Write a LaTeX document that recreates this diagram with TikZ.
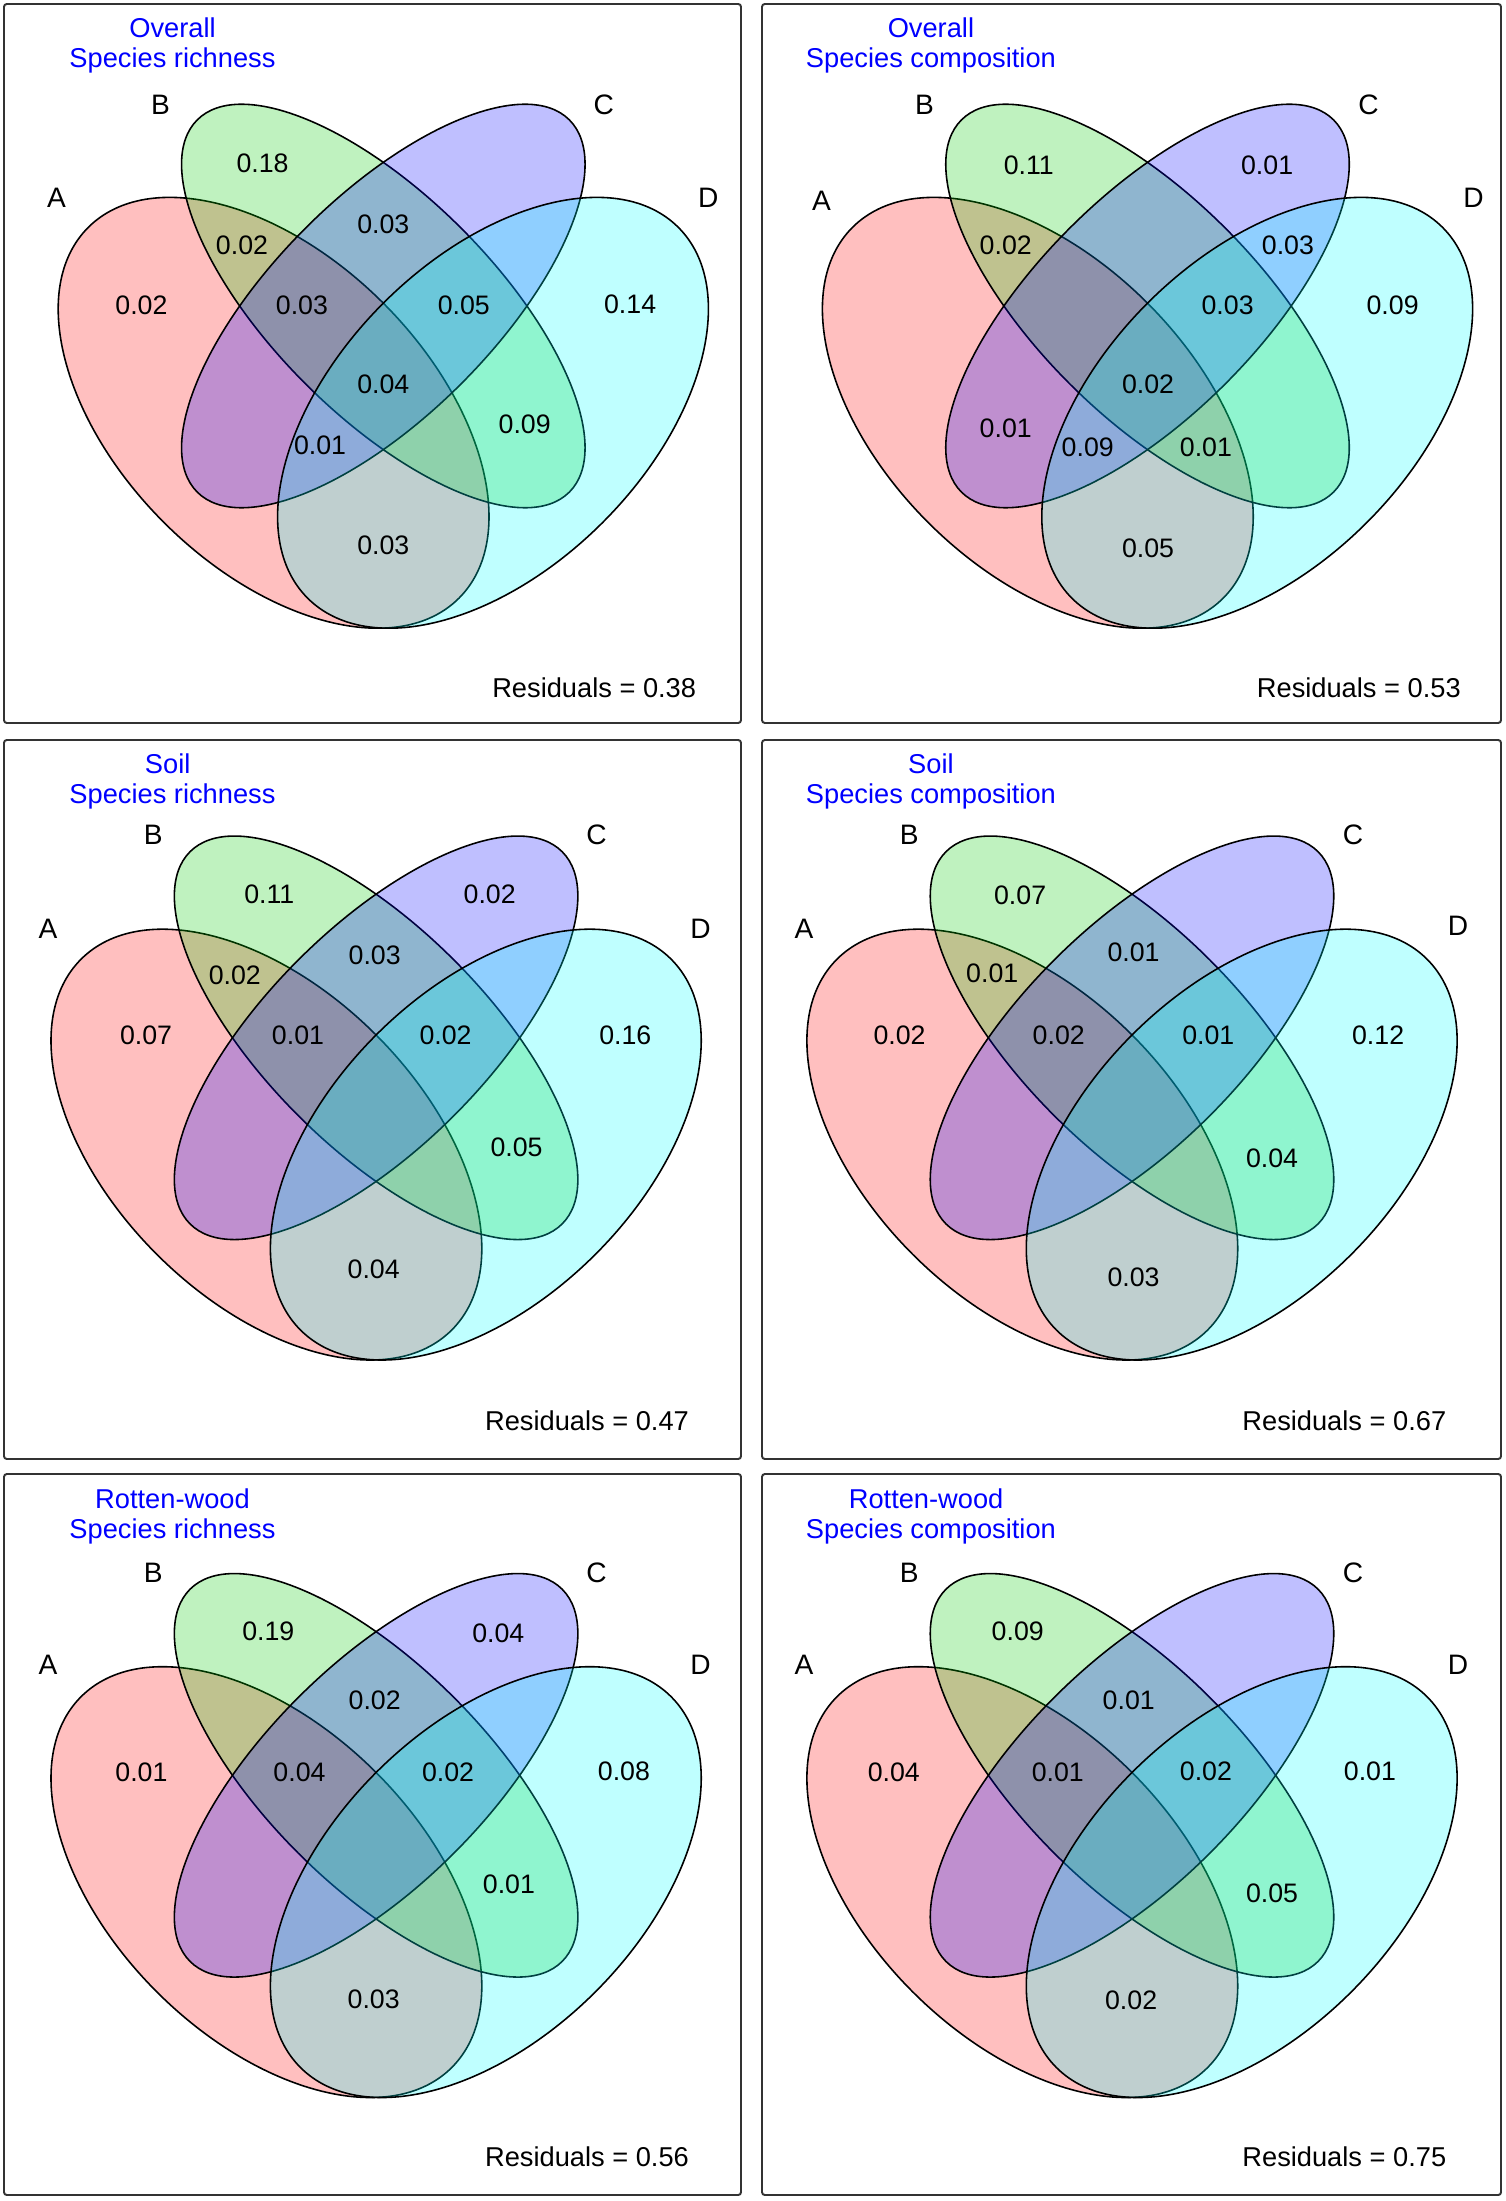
\documentclass[tikz,border=0pt]{standalone}
\usepackage{fontspec}
\setmainfont{Liberation Sans}
\definecolor{vred}{RGB}{255,0,0}
\definecolor{vgreen}{RGB}{0,205,0}
\definecolor{vblue}{RGB}{0,0,255}
\definecolor{vcyan}{RGB}{0,255,255}
\tikzset{
  venn/.style={draw=black, line width=0.45pt, fill opacity=0.25},
  frame/.style={draw=black!80, line width=0.55pt, rounded corners=0.8pt},
  val/.style={font=\fontsize{7.6}{9}\selectfont, inner sep=0pt},
  setlab/.style={font=\fontsize{8}{9}\selectfont, inner sep=0pt},
  res/.style={font=\fontsize{7.75}{9}\selectfont, inner sep=0pt},
  ttl/.style={font=\fontsize{7.75}{9}\selectfont, text=vblue, inner sep=0pt},
}
\begin{document}
\begin{tikzpicture}[x=0.01cm, y=-0.01cm]
\useasboundingbox (0,0) rectangle (1505,2201);
\foreach \x/\y/\u/\v in {4/4/741/723, 762/4/1501/723, 4/740/741/1459, 762/740/1501/1459, 4/1474/741/2195, 762/1474/1501/2195}
  \draw[frame] (\x,\y) rectangle (\u,\v);
\foreach \cx/\cy in {383.3/306, 1147.5/306, 376.1/1037.8, 1132/1037.8, 376.1/1775.3, 1132/1775.3}{
  \filldraw[venn, fill=vred, shift={(\cx-109.7,\cy+106.8)}, rotate=-45] (0,0) ellipse [x radius=2.62cm, y radius=1.55cm];
  \filldraw[venn, fill=vgreen, shift={(\cx,\cy)}, rotate=-45] (0,0) ellipse [x radius=2.63cm, y radius=1.10cm];
  \filldraw[venn, fill=vblue, shift={(\cx,\cy)}, rotate=45] (0,0) ellipse [x radius=2.63cm, y radius=1.10cm];
  \filldraw[venn, fill=vcyan, shift={(\cx+109.7,\cy+106.8)}, rotate=45] (0,0) ellipse [x radius=2.62cm, y radius=1.55cm];
}

\node[ttl] (p1-ttl) at (172.5,28) {Overall};
\node[ttl] (p1-sub) at (172.5,60.6) {Species richness};
\node[setlab] (p1-A) at (56.5,198.2) {A};
\node[setlab] (p1-B) at (160.5,104.9) {B};
\node[setlab] (p1-C) at (603.7,104.9) {C};
\node[setlab] (p1-D) at (708.2,198.2) {D};
\node[val] (p1-b) at (262.6,163.2) {0.18};
\node[val] (p1-bc) at (383.3,223.9) {0.03};
\node[val] (p1-ab) at (242,244.9) {0.02};
\node[val] (p1-a) at (141.4,305.5) {0.02};
\node[val] (p1-abc) at (301.9,305.5) {0.03};
\node[val] (p1-bcd) at (463.8,305.5) {0.05};
\node[val] (p1-d) at (630.1,304.1) {0.14};
\node[val] (p1-abcd) at (383.3,384.8) {0.04};
\node[val] (p1-bd) at (524.7,424.4) {0.09};
\node[val] (p1-acd) at (320.1,445.4) {0.01};
\node[val] (p1-ad) at (383.3,545.7) {0.03};
\node[res] (p1-res) at (594.2,688) {Residuals = 0.38};

\node[ttl] (p2-ttl) at (930.9,28) {Overall};
\node[ttl] (p2-sub) at (930.9,60.6) {Species composition};
\node[setlab] (p2-A) at (821.4,200.6) {A};
\node[setlab] (p2-B) at (924.6,104.9) {B};
\node[setlab] (p2-C) at (1368.4,104.9) {C};
\node[setlab] (p2-D) at (1473.6,198.2) {D};
\node[val] (p2-b) at (1028.8,165.6) {0.11};
\node[val] (p2-c) at (1267.1,165.6) {0.01};
\node[val] (p2-ab) at (1005.7,244.9) {0.02};
\node[val] (p2-cd) at (1287.9,244.9) {0.03};
\node[val] (p2-bcd) at (1227.6,305.5) {0.03};
\node[val] (p2-d) at (1392.6,305.5) {0.09};
\node[val] (p2-abcd) at (1148,384.8) {0.02};
\node[val] (p2-ac) at (1005.7,428.2) {0.01};
\node[val] (p2-acd) at (1087.7,447.8) {0.09};
\node[val] (p2-abd) at (1205.9,447.8) {0.01};
\node[val] (p2-ad) at (1148,548) {0.05};
\node[res] (p2-res) at (1358.8,688) {Residuals = 0.53};

\node[ttl] (p3-ttl) at (167.7,764) {Soil};
\node[ttl] (p3-sub) at (172.5,796.2) {Species richness};
\node[setlab] (p3-A) at (47.9,928.6) {A};
\node[setlab] (p3-B) at (153.3,835) {B};
\node[setlab] (p3-C) at (596.5,835) {C};
\node[setlab] (p3-D) at (700.5,928.6) {D};
\node[val] (p3-b) at (269.3,894.5) {0.11};
\node[val] (p3-c) at (489.7,894.5) {0.02};
\node[val] (p3-bc) at (374.7,955.5) {0.03};
\node[val] (p3-ab) at (234.8,974.9) {0.02};
\node[val] (p3-a) at (146.1,1035) {0.07};
\node[val] (p3-abc) at (298,1035) {0.01};
\node[val] (p3-bcd) at (445.6,1035) {0.02};
\node[val] (p3-d) at (625.3,1035) {0.16};
\node[val] (p3-bd) at (516.5,1147) {0.05};
\node[val] (p3-ad) at (373.7,1269) {0.04};
\node[res] (p3-res) at (587,1420.3) {Residuals = 0.47};

\node[ttl] (p4-ttl) at (930.9,764) {Soil};
\node[ttl] (p4-sub) at (930.9,796.2) {Species composition};
\node[setlab] (p4-A) at (804,928.6) {A};
\node[setlab] (p4-B) at (909.2,835) {B};
\node[setlab] (p4-C) at (1353,835) {C};
\node[setlab] (p4-D) at (1458.1,926.2) {D};
\node[val] (p4-b) at (1020.1,895.5) {0.07};
\node[val] (p4-bc) at (1133.5,952.2) {0.01};
\node[val] (p4-ab) at (992.2,973.5) {0.01};
\node[val] (p4-a) at (899.5,1035) {0.02};
\node[val] (p4-abc) at (1058.7,1035) {0.02};
\node[val] (p4-bcd) at (1208.3,1035) {0.01};
\node[val] (p4-d) at (1378.1,1035) {0.12};
\node[val] (p4-bd) at (1272,1157.9) {0.04};
\node[val] (p4-ad) at (1133.5,1277.5) {0.03};
\node[res] (p4-res) at (1344.3,1420.3) {Residuals = 0.67};

\node[ttl] (p5-ttl) at (172.5,1498.8) {Rotten-wood};
\node[ttl] (p5-sub) at (172.5,1531) {Species richness};
\node[setlab] (p5-A) at (47.9,1664.5) {A};
\node[setlab] (p5-B) at (153.3,1572.7) {B};
\node[setlab] (p5-C) at (596.5,1572.7) {C};
\node[setlab] (p5-D) at (700.5,1664.5) {D};
\node[val] (p5-b) at (268.3,1631.4) {0.19};
\node[val] (p5-c) at (498.3,1632.8) {0.04};
\node[val] (p5-bc) at (374.7,1700.5) {0.02};
\node[val] (p5-a) at (141.4,1772.5) {0.01};
\node[val] (p5-abc) at (299.5,1772.5) {0.04};
\node[val] (p5-bcd) at (448,1772.5) {0.02};
\node[val] (p5-d) at (623.9,1771.6) {0.08};
\node[val] (p5-bd) at (508.9,1883.8) {0.01};
\node[val] (p5-ad) at (373.7,1998.8) {0.03};
\node[res] (p5-res) at (587,2157) {Residuals = 0.56};

\node[ttl] (p6-ttl) at (926.1,1498.8) {Rotten-wood};
\node[ttl] (p6-sub) at (930.9,1531) {Species composition};
\node[setlab] (p6-A) at (804,1664.5) {A};
\node[setlab] (p6-B) at (909.2,1572.7) {B};
\node[setlab] (p6-C) at (1353,1572.7) {C};
\node[setlab] (p6-D) at (1458.1,1664.5) {D};
\node[val] (p6-b) at (1017.7,1631.4) {0.09};
\node[val] (p6-bc) at (1128.7,1700.5) {0.01};
\node[val] (p6-a) at (893.8,1772.5) {0.04};
\node[val] (p6-abc) at (1057.8,1772.5) {0.01};
\node[val] (p6-bcd) at (1205.9,1771.6) {0.02};
\node[val] (p6-d) at (1369.9,1771.6) {0.01};
\node[val] (p6-bd) at (1272,1893.2) {0.05};
\node[val] (p6-ad) at (1131.1,1999.8) {0.02};
\node[res] (p6-res) at (1344.3,2157) {Residuals = 0.75};
\end{tikzpicture}
\end{document}
